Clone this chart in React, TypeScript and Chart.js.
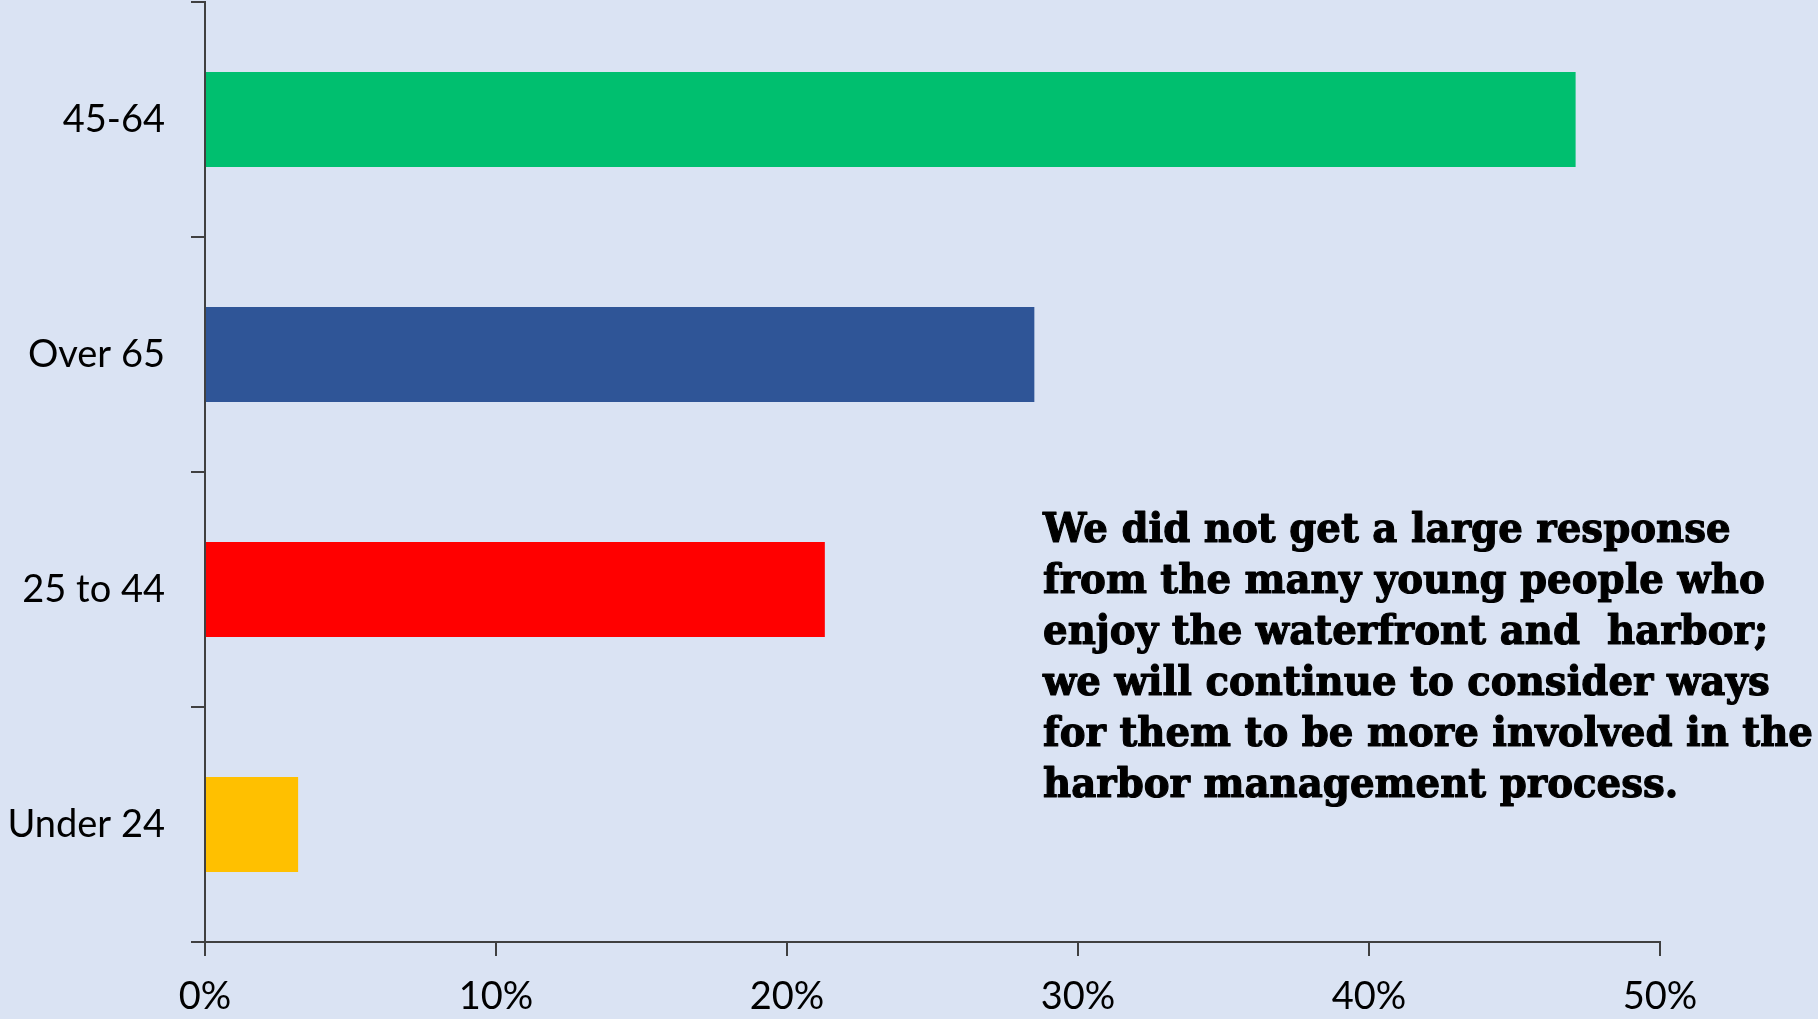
import React, { useEffect, useRef } from "react";
import { Chart, registerables } from "chart.js";

Chart.register(...registerables);

// ---- Data ----
const categories = ["45-64", "Over 65", "25 to 44", "Under 24"];
const shares = [47.1, 28.5, 21.3, 3.2];
const barColors = ["#00BF6F", "#2F5597", "#FF0000", "#FFC000"];
const axisMin = 0;
const axisMax = 50;
const axisStep = 10;
const noteLines = [
  "We did not get a large response",
  "from the many young people who",
  "enjoy the waterfront and  harbor;",
  "we will continue to consider ways",
  "for them to be more involved in the",
  "harbor management process.",
];

const W = 1818;
const H = 1019;
const BG = "#DAE3F3";
const AXIS = "#404040";
const labelFont = { family: "Lato, 'Open Sans', sans-serif", size: 38 };

const notePlugin = {
  id: "note",
  afterDraw(chart: any) {
    const ctx = chart.ctx as CanvasRenderingContext2D;
    ctx.save();
    ctx.font = "bold 41px 'DejaVu Serif', serif";
    ctx.fillStyle = "#000";
    ctx.strokeStyle = "#000";
    ctx.lineWidth = 1.2;
    ctx.lineJoin = "round";
    ctx.textBaseline = "alphabetic";
    ctx.textAlign = "left";
    const widest = Math.max(...noteLines.map((l) => ctx.measureText(l).width));
    const sx = 770 / widest;
    ctx.translate(1043, 0);
    ctx.scale(sx, 1);
    noteLines.forEach((line, i) => {
      ctx.fillText(line, 0, 542 + i * 51);
      ctx.strokeText(line, 0, 542 + i * 51);
    });
    ctx.restore();
  },
};

export default function App() {
  const ref = useRef<HTMLCanvasElement>(null);

  useEffect(() => {
    if (!ref.current) return;
    const chart = new Chart(ref.current, {
      type: "bar",
      data: {
        labels: categories,
        datasets: [
          {
            data: shares,
            backgroundColor: barColors,
            borderWidth: 0,
            barPercentage: 0.404,
            categoryPercentage: 1,
          },
        ],
      },
      options: {
        indexAxis: "y",
        responsive: false,
        maintainAspectRatio: false,
        animation: false,
        events: [],
        layout: { padding: { top: 2, right: 158, left: 0, bottom: 0 } },
        plugins: { legend: { display: false }, tooltip: { enabled: false } },
        scales: {
          x: {
            type: "linear",
            min: axisMin,
            max: axisMax,
            ticks: {
              stepSize: axisStep,
              callback: (v: any) => v + "%",
              font: labelFont,
              color: "#000",
              padding: 18,
              maxRotation: 0,
            },
            grid: {
              drawOnChartArea: false,
              drawTicks: true,
              tickLength: 14,
              color: AXIS,
              lineWidth: 2,
            },
            border: { display: true, color: AXIS, width: 2 },
            afterFit: (s: any) => {
              s.height = H - 942;
              s.paddingLeft = 0;
              s.paddingRight = 0;
            },
          },
          y: {
            type: "category",
            ticks: { font: labelFont, color: "#000", padding: 26 },
            grid: {
              offset: true,
              drawOnChartArea: false,
              drawTicks: true,
              tickLength: 14,
              color: AXIS,
              lineWidth: 2,
            },
            border: { display: true, color: AXIS, width: 2 },
            afterFit: (s: any) => {
              s.width = 205;
              s.paddingTop = 0;
              s.paddingBottom = 0;
            },
          },
        },
      } as any,
      plugins: [notePlugin],
    });
    return () => chart.destroy();
  }, []);

  return (
    <div
      style={{
        position: "fixed",
        left: 0,
        top: 0,
        width: W,
        height: H,
        background: BG,
        overflow: "hidden",
      }}
    >
      <canvas
        ref={ref}
        width={W}
        height={H}
        style={{ display: "block", width: W, height: H }}
      />
    </div>
  );
}
